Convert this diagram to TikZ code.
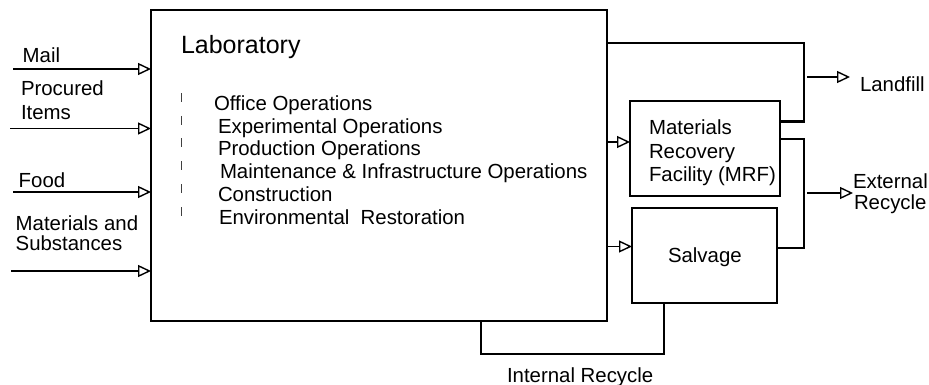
\documentclass[tikz,border=0pt]{standalone}
\usepackage{fontspec}
\setmainfont{Liberation Sans}
\usetikzlibrary{arrows.meta}
\begin{document}
\begin{tikzpicture}[x=1pt,y=-1pt,
  every node/.style={inner sep=0pt,outer sep=0pt},
  lbl/.style={anchor=base west,font=\fontsize{20.4}{23}\selectfont},
  boxed/.style={draw,line width=1.5pt,anchor=north west},
  flow/.style={line width=1.4pt},
  arr/.style={flow,-{Triangle[open,length=13pt,width=12pt,line width=1.4pt]}},
  tick/.style={line width=0.9pt,black!75}]
\useasboundingbox (0,0) rectangle (929,385);

% main block
\node[boxed,minimum width=456pt,minimum height=311pt] (lab) at (151,10) {};
\node[lbl,font=\fontsize{25}{30}\selectfont] (labt) at (181,54) {Laboratory};

% activities inside the laboratory
\foreach \t/\x/\y [count=\i] in {Office Operations/214/110.7,
    Experimental Operations/218/133.3,
    Production Operations/218/156,
    Maintenance \& Infrastructure Operations/220/178.7,
    Construction/218/201.5,
    Environmental\ \ Restoration/219/224.5}{
  \node[lbl] (act\i) at (\x,\y) {\t};
  \draw[tick] (181,\y-17.5) -- ++(0,9);
}

% receiving facilities
\node[boxed,minimum width=150pt,minimum height=95pt] (mrf) at (630,101) {};
\node[lbl] (mrf1) at (649,135) {Materials};
\node[lbl] (mrf2) at (649,158.5) {Recovery};
\node[lbl] (mrf3) at (649,182) {Facility (MRF)};
\node[boxed,minimum width=145pt,minimum height=95pt] (salv) at (632,208) {};
\node[lbl] (salvt) at (668,262) {Salvage};

% inputs
\node[lbl] (mail) at (22.7,62.7) {Mail};
\node[lbl] (proc1) at (21,96) {Procured};
\node[lbl] (proc2) at (21,120) {Items};
\node[lbl] (food) at (18.7,187) {Food};
\node[lbl] (mat1) at (15.7,230) {Materials and};
\node[lbl] (mat2) at (15.7,250) {Substances};

\coordinate (mailS) at (13,69);
\coordinate (procS) at (10,128.5);
\coordinate (foodS) at (13,192);
\coordinate (matS) at (11,271);
\draw[arr,line width=1.9pt] (mailS) -- (mailS -| lab.west);
\draw[arr,line width=1.6pt] (procS) -- (procS -| lab.west);
\draw[arr,line width=1.5pt] (foodS) -- (foodS -| lab.west);
\draw[arr,line width=1.1pt] (matS) -- (matS -| lab.west);

% laboratory to MRF and salvage
\coordinate (toMrf) at (620,142);
\coordinate (toSal) at (620,246.5);
\draw[arr] (toMrf -| lab.east) -- (toMrf -| mrf.west);
\draw[arr] (toSal -| lab.east) -- (toSal -| salv.west);

% landfill branch
\coordinate (lfTop) at (804,43);
\coordinate (lfBot) at (804,121.5);
\coordinate (lfOut) at (807,77);
\coordinate (lfTip) at (850,77);
\draw[flow] (lfTop -| lab.east) -- (lfTop) -- (lfBot);
\draw[line width=2.4pt] (lfBot -| mrf.east) -- ([xshift=0.7pt]lfBot);
\draw[arr] (lfOut) -- (lfTip);
\node[lbl] (landfill) at (860,92) {Landfill};

% external recycle branch
\coordinate (erTop) at (804,139);
\coordinate (erBot) at (804,248);
\coordinate (erOut) at (807,193);
\coordinate (erTip) at (853,193);
\draw[flow] (erTop -| mrf.east) -- (erTop) -- (erBot) -- (erBot -| salv.east);
\draw[arr] (erOut) -- (erTip);
\node[lbl] (ext1) at (853,188) {External};
\node[lbl] (ext2) at (854,209) {Recycle};

% internal recycle loop
\coordinate (irA) at (481,354);
\coordinate (irB) at (664,354);
\draw[flow] (irA |- lab.south) -- (irA) -- (irB) -- (irB |- salv.south);
\node[lbl] (intrec) at (507,382) {Internal Recycle};
\end{tikzpicture}
\end{document}
